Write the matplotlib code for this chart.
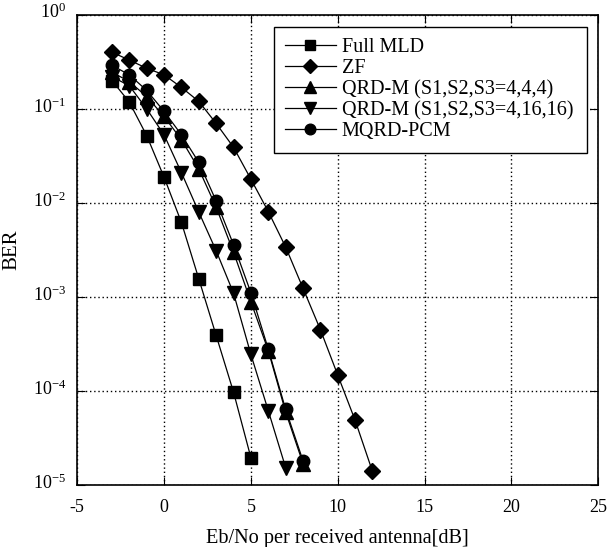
import matplotlib
matplotlib.use("Agg")
import matplotlib.pyplot as plt
import matplotlib.transforms as mtransforms
from matplotlib.ticker import LogLocator, NullLocator

plt.rcParams['font.family'] = ['Liberation Serif', 'DejaVu Serif']
plt.rcParams['mathtext.fontset'] = 'custom'
plt.rcParams['mathtext.rm'] = 'Liberation Serif'
plt.rcParams['mathtext.it'] = 'Liberation Serif:italic'
plt.rcParams['axes.unicode_minus'] = False
plt.rcParams['xtick.labelsize'] = 13
plt.rcParams['ytick.labelsize'] = 13
plt.rcParams['xtick.major.pad'] = 10
plt.rcParams['ytick.major.pad'] = 8

# Eb/No [dB]
snr_mld = [-3, -2, -1, 0, 1, 2, 3, 4, 5]
ber_mld = [0.20, 0.118, 0.052, 0.0188, 0.0062, 0.00156, 0.00039, 0.0000975, 0.0000196]

snr_zf = [-3, -2, -1, 0, 1, 2, 3, 4, 5, 6, 7, 8, 9, 10, 11, 12]
ber_zf = [0.40, 0.33, 0.27, 0.23, 0.169, 0.12, 0.070, 0.039, 0.0179, 0.0081,
          0.0034, 0.00124, 0.00045, 0.000148, 0.000049, 0.000014]

snr_qrdm444 = [-3, -2, -1, 0, 1, 2, 3, 4, 5, 6, 7, 8]
ber_qrdm444 = [0.245, 0.195, 0.135, 0.083, 0.047, 0.023, 0.0090, 0.0030,
               0.00089, 0.00027, 0.000060, 0.000017]

snr_qrdm41616 = [-3, -2, -1, 0, 1, 2, 3, 4, 5, 6, 7]
ber_qrdm41616 = [0.22, 0.176, 0.10, 0.053, 0.021, 0.0080, 0.0031, 0.0011,
                 0.000245, 0.000062, 0.0000154]

snr_mqrd = [-3, -2, -1, 0, 1, 2, 3, 4, 5, 6, 7, 8]
ber_mqrd = [0.29, 0.23, 0.157, 0.094, 0.053, 0.027, 0.0105, 0.0036,
            0.00111, 0.00028, 0.000064, 0.0000182]

labels = ["Full MLD", "ZF", "QRD-M (S1,S2,S3=4,4,4)",
          "QRD-M (S1,S2,S3=4,16,16)", "MQRD-PCM"]

fig = plt.figure(figsize=(6.08, 5.47), dpi=100)
ax = fig.add_axes([0.127, 0.113, 0.857, 0.860])

style = dict(color='black', linewidth=0.9)
ax.semilogy(snr_mld, ber_mld, marker='s', markersize=9, label=labels[0], **style)
ax.semilogy(snr_zf, ber_zf, marker='D', markersize=8, label=labels[1], **style)
ax.semilogy(snr_qrdm444, ber_qrdm444, marker='^', markersize=10, label=labels[2], **style)
ax.semilogy(snr_qrdm41616, ber_qrdm41616, marker='v', markersize=10, label=labels[3], **style)
ax.semilogy(snr_mqrd, ber_mqrd, marker='o', markersize=9, label=labels[4], **style)

ax.set_xlim(-5, 25)
ax.set_ylim(1e-5, 1)
ax.set_xticks(range(-5, 26, 5))
ax.yaxis.set_major_locator(LogLocator(base=10, numticks=10))
ax.yaxis.set_minor_locator(NullLocator())
ax.grid(True, which='major', color='black', linestyle=(0, (1, 2)), linewidth=1.0)
ax.tick_params(direction='in', top=True, right=True, length=6)
for s in ax.spines.values():
    s.set_linewidth(1.2)

ax.set_xlabel("Eb/No per received antenna[dB]", fontsize=14.6, labelpad=9)
ax.set_ylabel("BER", fontsize=15, labelpad=8)

leg = ax.legend(loc='upper left', bbox_to_anchor=(0.378, 0.975, 0.6, 0), mode='expand',
                fontsize=14.5, frameon=True, fancybox=False, edgecolor='black',
                framealpha=1, labelspacing=0.1, handlelength=2.5, handletextpad=0.3,
                borderpad=0.55, borderaxespad=0, markerscale=0.85)
leg.get_frame().set_linewidth(1.0)

fig.canvas.draw()
# y tick labels sit slightly above their ticks
shift = mtransforms.ScaledTranslation(0, 4 / 100, fig.dpi_scale_trans)
for lab in ax.get_yticklabels():
    lab.set_transform(lab.get_transform() + shift)

fig.savefig("out.png", dpi=100)
